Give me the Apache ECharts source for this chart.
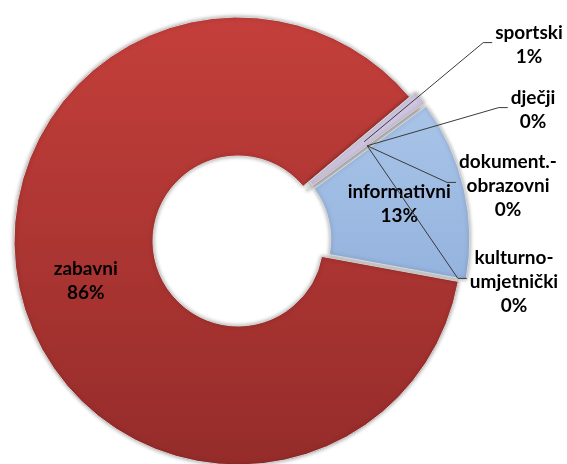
<!DOCTYPE html>
<html>
<head>
<meta charset="utf-8">
<script src="https://cdn.jsdelivr.net/npm/echarts@6/dist/echarts.min.js"></script>
<style>
  html, body { margin: 0; padding: 0; background: #fff; }
  #chart { width: 567px; height: 464px; }
</style>
</head>
<body>
<div id="chart"></div>
<script>
// data, clockwise from the top-right edge of the big slice
const categories = ['sportski', 'dječji', 'dokument.-\nobrazovni', 'kulturno-\numjetnički', 'informativni', 'zabavni']
const values = [1, 0, 0, 0, 13, 86]

// where the labels sit (centre of the text block)
const labelPos = {
  'sportski': [529, 45],
  'dječji': [533, 110],
  'dokument.-\nobrazovni': [508, 186],
  'kulturno-\numjetnički': [514, 282],
  'informativni': [399, 206]
}

const CENTER = [238, 241]
const RADIUS = [85, 224]
const LH = 24

const red = new echarts.graphic.LinearGradient(0, 0, 0, 1, [
  { offset: 0, color: '#c43f3b' },
  { offset: 1, color: '#952c2a' }
])
const blue = new echarts.graphic.LinearGradient(0, 0, 0, 1, [
  { offset: 0, color: '#a9c4e8' },
  { offset: 1, color: '#94b3de' }
])
const lilac = '#cfc5e0'
const colors = [lilac, lilac, lilac, lilac, blue, red]

let chart = echarts.init(document.getElementById('chart'))
let total = values.reduce((a, b) => a + b, 0)

function pct(i) {
  return Math.round(values[i] / total * 100) + '%'
}

// excel style leader: starts mid ring, ends with a short flat piece left of the text
function leader(p, pos) {
  let a = p.labelLinePoints ? p.labelLinePoints[0] : [CENTER[0] + 1, CENTER[1]]
  let dx = a[0] - CENTER[0], dy = a[1] - CENTER[1]
  let d = Math.sqrt(dx * dx + dy * dy) || 1
  let rMid = (RADIUS[0] + RADIUS[1]) / 2 + 6
  let start = [CENTER[0] + dx / d * rMid, CENTER[1] + dy / d * rMid]
  let w = p.labelRect.width, h = p.labelRect.height
  let left = pos[0] - w / 2
  let top = pos[1] - h / 2
  let lines = categories[p.dataIndex].split('\n').length + 1
  let endY = lines > 2 ? top + LH * 1.35 : top + LH * 0.9
  let endX = left - 3
  return [start, [endX - 9, endY], [endX, endY]]
}

const labelFont = {
  color: '#000',
  fontFamily: 'Lato',
  fontWeight: 'bold',
  fontSize: 19,
  lineHeight: LH,
  align: 'center'
}

function getOption() {
  // the coloured ring with the two big labels inside
  let ringData = categories.map((name, i) => ({
    name: name,
    value: values[i],
    selected: name === 'informativni' || name === 'sportski',
    itemStyle: { color: colors[i] },
    label: { show: values[i] > 5 }
  }))
  // same ring, invisible, carrying the small labels and their leaders on top
  let guideData = categories.map((name, i) => ({
    name: name,
    value: values[i],
    label: { show: values[i] <= 5 },
    labelLine: { show: values[i] <= 5 }
  }))
  return {
    animation: false,
    series: [
      {
        type: 'pie',
        z: 2,
        center: CENTER,
        radius: RADIUS,
        startAngle: 40,
        clockwise: true,
        avoidLabelOverlap: false,
        selectedMode: 'multiple',
        selectedOffset: 8,
        silent: true,
        itemStyle: {
          borderColor: '#d9d9d9',
          borderWidth: 1,
          shadowBlur: 4,
          shadowColor: 'rgba(0,0,0,0.35)'
        },
        label: Object.assign({
          position: 'inside',
          formatter: p => p.name + '\n' + pct(p.dataIndex)
        }, labelFont),
        labelLine: { show: false },
        labelLayout: p => {
          let pos = labelPos[categories[p.dataIndex]]
          if (!pos) return {}
          return { x: pos[0], y: pos[1], align: 'center', verticalAlign: 'middle' }
        },
        data: ringData
      },
      {
        type: 'pie',
        z: 5,
        center: CENTER,
        radius: RADIUS,
        startAngle: 40,
        clockwise: true,
        avoidLabelOverlap: false,
        silent: true,
        itemStyle: { color: 'rgba(0,0,0,0)', borderWidth: 0 },
        label: Object.assign({
          position: 'outside',
          formatter: p => p.name + '\n' + pct(p.dataIndex)
        }, labelFont),
        labelLine: {
          length: 20,
          length2: 20,
          lineStyle: { color: '#3a3a3a', width: 1 }
        },
        labelLayout: p => {
          let pos = labelPos[categories[p.dataIndex]]
          if (!pos) return {}
          return {
            x: pos[0], y: pos[1], align: 'center', verticalAlign: 'middle',
            labelLinePoints: leader(p, pos)
          }
        },
        data: guideData
      }
    ]
  }
}

chart.setOption(getOption())
</script>
</body>
</html>
